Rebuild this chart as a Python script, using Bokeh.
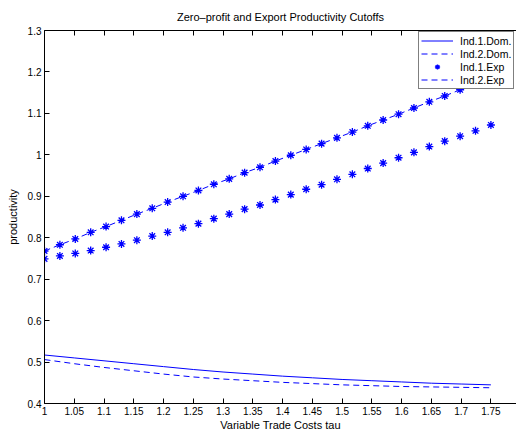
import numpy as np
from bokeh.plotting import figure
from bokeh.models import LinearAxis, FixedTicker, Range1d, Legend, LegendItem
from bokeh.embed import file_html
from bokeh.resources import INLINE

# trade-cost grid for the export cutoffs (30 evaluation points)
tau = np.linspace(1.0, 1.75, 30)

# export productivity cutoffs
exp_ind1 = [0.749, 0.756, 0.762, 0.769, 0.777, 0.785, 0.794, 0.804, 0.813, 0.824,
            0.834, 0.846, 0.857, 0.869, 0.879, 0.892, 0.904, 0.917, 0.928, 0.941,
            0.953, 0.967, 0.980, 0.993, 1.006, 1.020, 1.033, 1.045, 1.058, 1.072]
exp_ind2 = [0.768, 0.783, 0.797, 0.813, 0.827, 0.842, 0.857, 0.871, 0.886, 0.900,
            0.914, 0.929, 0.942, 0.957, 0.970, 0.985, 0.999, 1.013, 1.027, 1.041,
            1.055, 1.070, 1.084, 1.098, 1.113, 1.128, 1.142, 1.157, 1.172, 1.187]

# zero-profit (domestic) cutoffs
tau_dom = [1.00, 1.05, 1.10, 1.15, 1.20, 1.25, 1.30, 1.35,
           1.40, 1.45, 1.50, 1.55, 1.60, 1.65, 1.70, 1.75]
dom_ind1 = [0.517, 0.510, 0.503, 0.496, 0.489, 0.482, 0.476, 0.471,
            0.466, 0.462, 0.458, 0.455, 0.452, 0.449, 0.447, 0.445]
dom_ind2 = [0.506, 0.496, 0.487, 0.479, 0.471, 0.464, 0.459, 0.455,
            0.451, 0.448, 0.445, 0.443, 0.441, 0.440, 0.439, 0.438]

x_ticks = [1.0, 1.05, 1.1, 1.15, 1.2, 1.25, 1.3, 1.35, 1.4, 1.45,
           1.5, 1.55, 1.6, 1.65, 1.7, 1.75, 1.8]
x_tick_labels = ["1", "1.05", "1.1", "1.15", "1.2", "1.25", "1.3", "1.35", "1.4",
                 "1.45", "1.5", "1.55", "1.6", "1.65", "1.7", "1.75", "1.8"]
y_ticks = [0.4, 0.5, 0.6, 0.7, 0.8, 0.9, 1.0, 1.1, 1.2, 1.3]
y_tick_labels = ["0.4", "0.5", "0.6", "0.7", "0.8", "0.9", "1", "1.1", "1.2", "1.3"]

TITLE = "Zero\u2013profit and Export Productivity Cutoffs"
FONT = "Liberation Sans"
BLUE = "#0000ff"

p = figure(width=516, height=433, output_backend="svg", toolbar_location=None,
           x_range=Range1d(1.0, 1.793), y_range=Range1d(0.4, 1.3),
           x_axis_location=None, y_axis_location=None, title=None,
           min_border_left=44, min_border_right=0, min_border_top=30,
           min_border_bottom=28)
p.outline_line_color = None
p.grid.visible = False
p.background_fill_color = "white"
p.border_fill_color = "white"


def style_axis(ax, ticks, labels, show_labels=True):
    ax.ticker = FixedTicker(ticks=ticks)
    ax.major_label_overrides = {t: s for t, s in zip(ticks, labels)}
    ax.major_tick_in = 5
    ax.major_tick_out = 0
    ax.minor_tick_line_color = None
    ax.axis_line_color = "black"
    ax.major_tick_line_color = "black"
    ax.major_label_text_font = FONT
    ax.major_label_text_font_size = "10px" if show_labels else "0px"
    ax.major_label_text_color = "black"
    ax.axis_label_text_font = FONT
    ax.axis_label_text_font_size = "11px"
    ax.axis_label_text_font_style = "normal"
    ax.axis_label_text_color = "black"


xb = LinearAxis(axis_label="Variable Trade Costs tau")
style_axis(xb, x_ticks, x_tick_labels)
xb.major_label_standoff = 3
xb.axis_label_standoff = 1
p.add_layout(xb, "below")

yl = LinearAxis(axis_label="productivity")
style_axis(yl, y_ticks, y_tick_labels)
yl.major_label_standoff = 3
yl.axis_label_standoff = 6
p.add_layout(yl, "left")

# top box edge with inward ticks; the chart title sits above it
xt = LinearAxis(axis_label=TITLE)
style_axis(xt, x_ticks, [""] * len(x_ticks), show_labels=False)
xt.major_label_standoff = 0
xt.axis_label_standoff = 8
p.add_layout(xt, "above")

r_d1 = p.line(tau_dom, dom_ind1, line_color=BLUE, line_width=1)
r_d2 = p.line(tau_dom, dom_ind2, line_color=BLUE, line_width=1, line_dash="6 4")
r_e1 = p.scatter(tau, exp_ind1, marker="asterisk", size=8, line_color=BLUE,
                 line_width=1.3)
r_e1b = p.scatter(tau, exp_ind2, marker="asterisk", size=8, line_color=BLUE,
                  line_width=1.3)
r_e2 = p.line(tau, exp_ind2, line_color=BLUE, line_width=1, line_dash="6 4")

legend = Legend(items=[
    LegendItem(label="Ind.1.Dom.", renderers=[r_d1]),
    LegendItem(label="Ind.2.Dom.", renderers=[r_d2]),
    LegendItem(label="Ind.1.Exp", renderers=[r_e1]),
    LegendItem(label="Ind.2.Exp", renderers=[r_e2]),
], location=(374, 314))
legend.margin = 0
legend.padding = 2
legend.spacing = 0
legend.label_height = 13
legend.glyph_height = 13
legend.glyph_width = 32
legend.label_standoff = 7
legend.label_text_font = FONT
legend.label_text_font_size = "10.5px"
legend.label_text_color = "black"
legend.border_line_color = "black"
legend.border_line_width = 1
legend.background_fill_color = "white"
legend.background_fill_alpha = 1.0
p.add_layout(legend, "center")

open("out.html", "w").write(file_html(p, INLINE))
